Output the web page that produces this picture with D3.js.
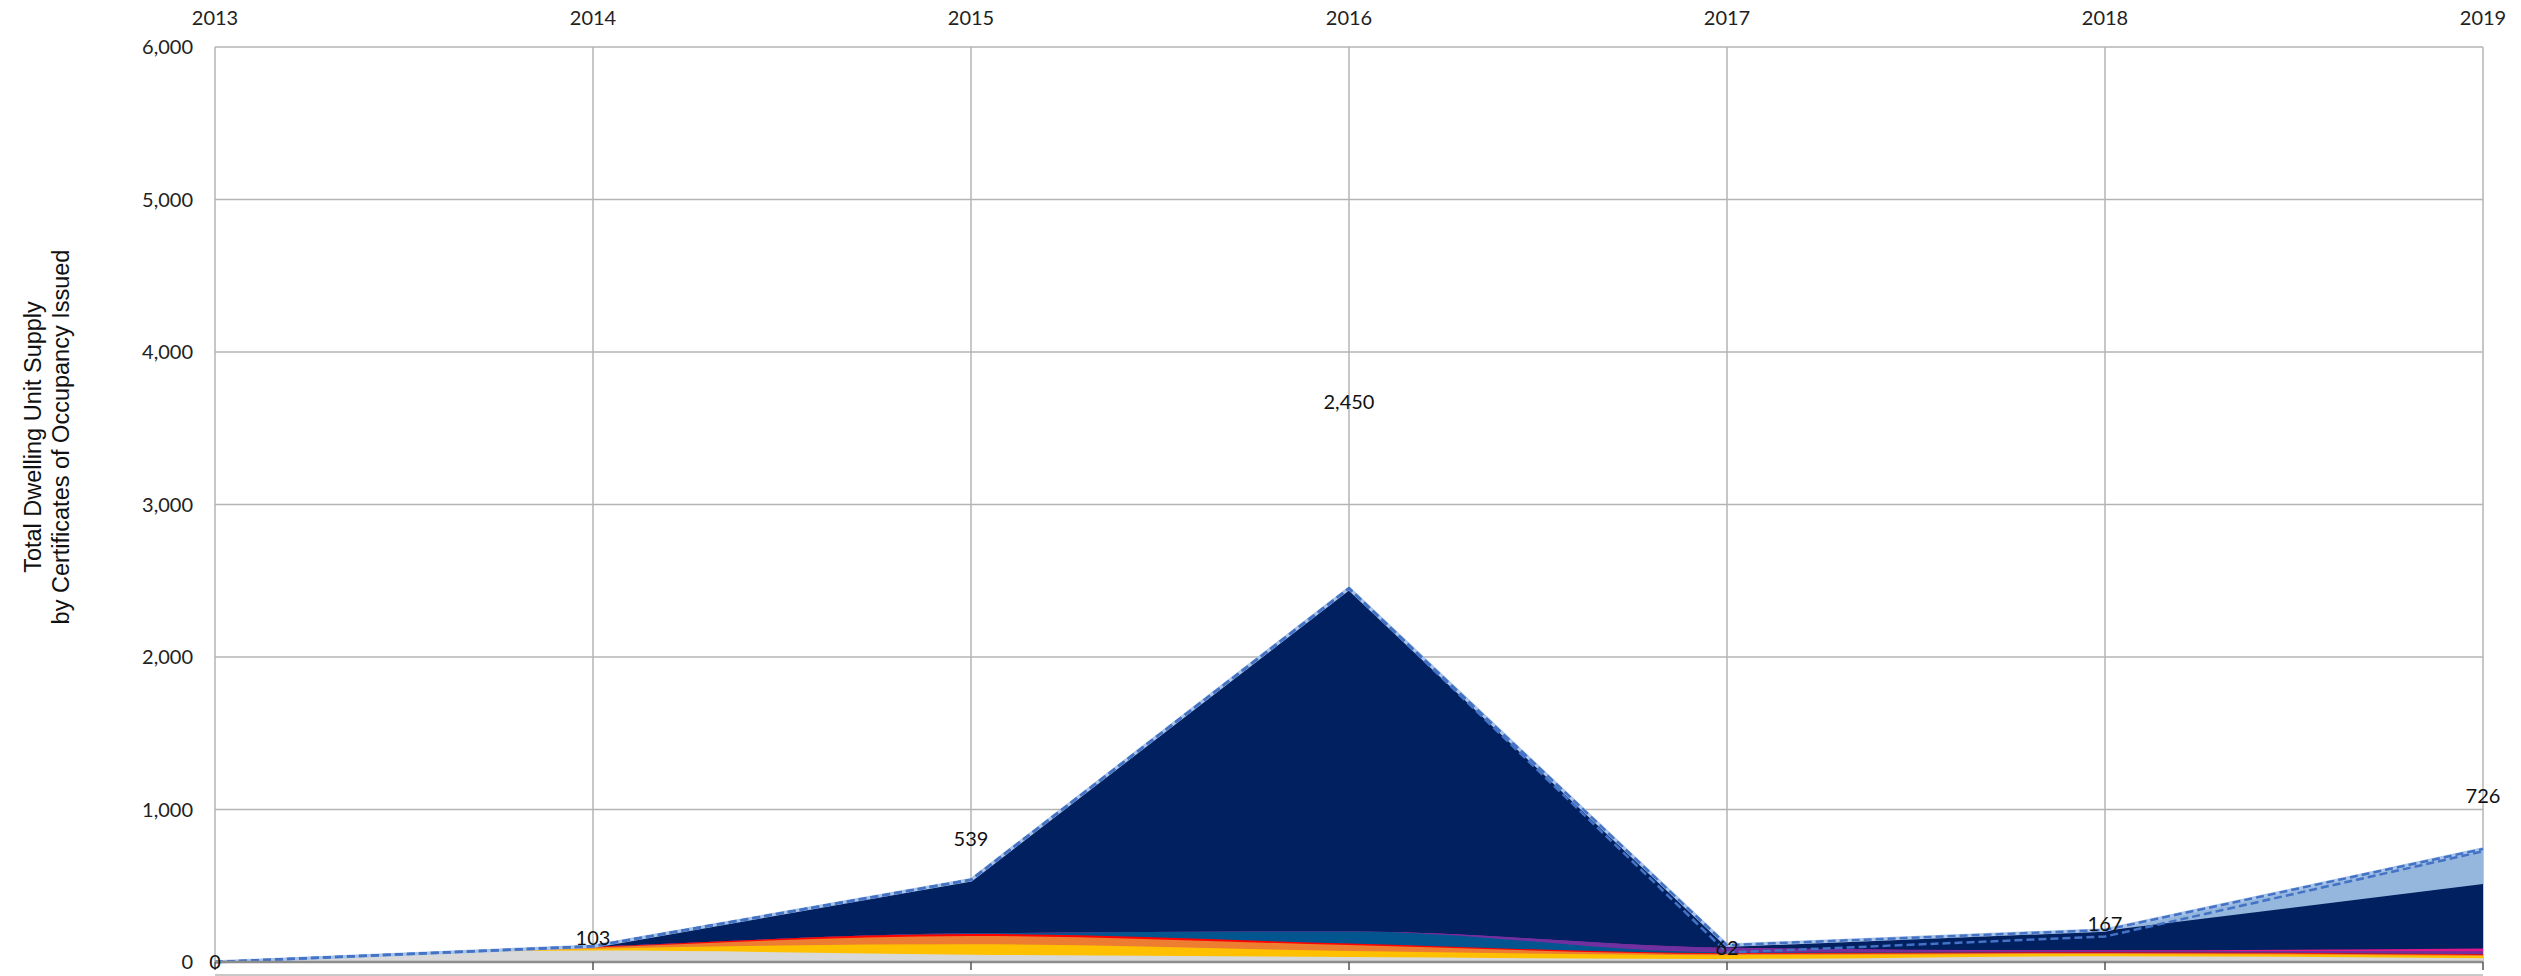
<!DOCTYPE html>
<html>
<head>
<meta charset="utf-8">
<script src="https://cdn.jsdelivr.net/npm/d3@7"></script>
<style>
  html, body { margin: 0; padding: 0; background: #fff; }
  svg { display: block; }
  text { font-family: Lato, "Open Sans", sans-serif; }
</style>
</head>
<body>
<svg id="chart" width="2521" height="976"></svg>
<script>
// ---- Data ----
const years = [2013, 2014, 2015, 2016, 2017, 2018, 2019];
const yTicks = [0, 1000, 2000, 3000, 4000, 5000, 6000];
const seriesKeys = ["gray", "yellow", "orange", "red", "teal", "purple", "magenta", "navy", "lightblue"];
const seriesColors = ["#d9d9d9", "#ffc000", "#ed7d31", "#ff0000", "#02558f", "#7030a0", "#e0168c", "#002060", "#95b7de"];
const gray      = [0, 75, 48, 33, 20, 38, 25];
const yellow    = [0, 12, 68, 39, 25, 15, 15];
const orange    = [0,  8, 55, 39,  8,  6,  6];
const red       = [0,  5, 12, 10,  5,  5,  5];
const teal      = [0,  0,  5, 79,  5,  0,  0];
const purple    = [0,  0,  0,  0, 30,  8, 20];
const magenta   = [0,  0,  0,  0,  0,  5, 18];
const navy      = [0,  3, 351, 2250, 17, 128, 422];
const lightblue = [0,  0,  0,  0,  0,  5, 230];
const totals    = [0, 103, 539, 2450, 62, 167, 726];
const yTitleLines = ["Total Dwelling Unit Supply", "by Certificates of Occupancy Issued"];

const seriesVals = {gray, yellow, orange, red, teal, purple, magenta, navy, lightblue};
const rows = years.map((yr, i) => {
  const r = {year: yr};
  seriesKeys.forEach(k => r[k] = seriesVals[k][i]);
  return r;
});

// ---- Layout ----
const L = 215, R = 2483, T = 47, B = 962;
const svg = d3.select("#chart");
const x = d3.scaleLinear().domain([2013, 2019]).range([L, R]);
const y = d3.scaleLinear().domain([0, 6000]).range([B, T]);

// Grid
const grid = svg.append("g");
grid.selectAll("line.h").data(yTicks).join("line")
  .attr("x1", L).attr("x2", R).attr("y1", d => y(d)).attr("y2", d => y(d))
  .attr("stroke", "#b4b4b4").attr("stroke-width", 1.5);
grid.selectAll("line.v").data(years).join("line")
  .attr("x1", d => x(d)).attr("x2", d => x(d)).attr("y1", T).attr("y2", B)
  .attr("stroke", "#b4b4b4").attr("stroke-width", 1.5);

// Stacked areas (painted from the top layer down, each from baseline to its cumulative top)
const stack = d3.stack().keys(seriesKeys);
const layers = stack(rows);
const curveFor = i => (i >= 7 ? d3.curveLinear : d3.curveMonotoneX);
const areaGen = i => d3.area()
  .x(d => x(d.data.year))
  .y0(y(0))
  .y1(d => y(d[1]))
  .curve(curveFor(i));
const areaG = svg.append("g");
for (let i = layers.length - 1; i >= 0; i--) {
  areaG.append("path")
    .attr("d", areaGen(i)(layers[i]))
    .attr("fill", seriesColors[i]);
}

// Top outline of stack (dashed)
const topLayer = layers[layers.length - 1];
const topLine = d3.line().x(d => x(d.data.year)).y(d => y(d[1])).curve(d3.curveLinear);
svg.append("path").attr("d", topLine(topLayer))
  .attr("fill", "none").attr("stroke", "#a9c4ea").attr("stroke-width", 3.5);
svg.append("path").attr("d", topLine(topLayer))
  .attr("fill", "none").attr("stroke", "#4472c4").attr("stroke-width", 2.5)
  .attr("stroke-dasharray", "8,4");

// Total line (dashed)
const totalLine = d3.line().x((d, i) => x(years[i])).y(d => y(d)).curve(d3.curveLinear);
svg.append("path").attr("d", totalLine(totals))
  .attr("fill", "none").attr("stroke", "#4472c4").attr("stroke-width", 2.5)
  .attr("stroke-dasharray", "8,4");

// Bottom axis
svg.append("line").attr("x1", L).attr("x2", R).attr("y1", B).attr("y2", B)
  .attr("stroke", "#8c8c8c").attr("stroke-width", 2.5);
svg.selectAll("line.tick").data(years).join("line")
  .attr("x1", d => x(d)).attr("x2", d => x(d)).attr("y1", B).attr("y2", B + 8)
  .attr("stroke", "#555").attr("stroke-width", 1.5);
svg.append("line").attr("x1", L).attr("x2", R).attr("y1", 975).attr("y2", 975)
  .attr("stroke", "#c8c8c8").attr("stroke-width", 2);

// Y tick labels
svg.append("g").selectAll("text").data(yTicks).join("text")
  .attr("x", L - 22).attr("y", d => y(d)).attr("dy", "0.35em")
  .attr("text-anchor", "end").attr("font-size", 20).attr("fill", "#222")
  .text(d => d3.format(",")(d));

// Top year labels
svg.append("g").selectAll("text").data(years).join("text")
  .attr("x", d => x(d)).attr("y", 18).attr("dy", "0.35em")
  .attr("text-anchor", "middle").attr("font-size", 20).attr("fill", "#222")
  .text(d => d);

// Data labels (total)
svg.append("g").selectAll("text").data(totals).join("text")
  .attr("x", (d, i) => x(years[i])).attr("y", d => y(d * 1.5)).attr("dy", "0.35em")
  .attr("text-anchor", "middle").attr("font-size", 20).attr("fill", "#111")
  .text(d => d3.format(",")(d));

// Y axis title
const yt = svg.append("text")
  .attr("transform", `translate(33, 437) rotate(-90)`)
  .attr("text-anchor", "middle")
  .style("font-family", "'Liberation Sans', Arial, sans-serif")
  .attr("font-size", 23.5).attr("fill", "#111");
yt.selectAll("tspan").data(yTitleLines).join("tspan")
  .attr("x", 0).attr("dy", (d, i) => i === 0 ? "0.35em" : "1.2em")
  .text(d => d);
</script>
</body>
</html>
